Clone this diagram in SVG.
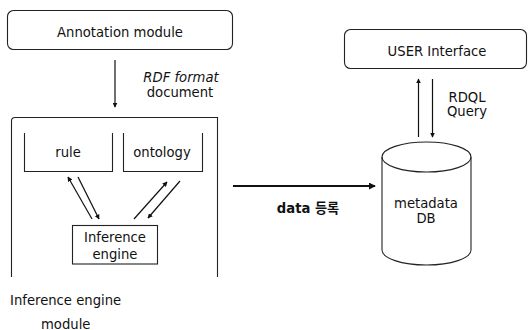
<svg xmlns="http://www.w3.org/2000/svg" width="529" height="330" viewBox="0 0 529 330">
  <defs>
    <marker id="head" viewBox="0 0 8 8" refX="7" refY="4" markerWidth="5" markerHeight="5" orient="auto" markerUnits="userSpaceOnUse">
      <path d="M0,0 L8,4 L0,8 z" fill="#111"/>
    </marker>
    <marker id="headBig" viewBox="0 0 8 8" refX="7" refY="4" markerWidth="7" markerHeight="7" orient="auto" markerUnits="userSpaceOnUse">
      <path d="M0,0 L8,4 L0,8 z" fill="#111"/>
    </marker>
    <style>
      .box { fill: none; stroke: #222; stroke-width: 1.1; }
      .lbl { font-family: "DejaVu Sans", "Noto Sans CJK KR", sans-serif; font-size: 13.2px; fill: #111; text-anchor: middle; }
      .edge { stroke: #111; stroke-width: 1.2; fill: none; marker-end: url(#head); }
    </style>
  </defs>
  <rect width="529" height="330" fill="#fff"/>

  <g id="annotation">
    <rect class="box" x="7.5" y="10.5" width="225" height="39" rx="6"/>
    <text class="lbl" x="120" y="37">Annotation module</text>
  </g>

  <g id="user-interface">
    <rect class="box" x="344.5" y="29.5" width="182" height="39" rx="6"/>
    <text class="lbl" x="437" y="56">USER Interface</text>
  </g>

  <g id="inference-module">
    <path class="box" d="M11.5,277 V121 Q11.5,117.5 15,117.5 H217.5 V277"/>
    <text class="lbl" x="10" y="305" style="text-anchor:start">Inference engine</text>
    <text class="lbl" x="41" y="328.5" style="text-anchor:start">module</text>
  </g>

  <g id="rule">
    <path class="box" d="M24.5,133 V171.5 H112.5 V133"/>
    <text class="lbl" x="68" y="157">rule</text>
  </g>

  <g id="ontology">
    <path class="box" d="M123.5,133 V171.5 H202.5 V133"/>
    <text class="lbl" x="162" y="157">ontology</text>
  </g>

  <g id="engine">
    <rect class="box" x="72.5" y="225.5" width="85" height="38.5"/>
    <text class="lbl" x="115" y="242">Inference</text>
    <text class="lbl" x="115" y="259">engine</text>
  </g>

  <g id="metadata-db">
    <path class="box" d="M382,157 V250 A44.5,15 0 0 0 471,250 V157"/>
    <ellipse class="box" cx="426.5" cy="157" rx="44.5" ry="15"/>
    <text class="lbl" x="426" y="208">metadata</text>
    <text class="lbl" x="426" y="223">DB</text>
  </g>

  <g id="connectors">
    <line class="edge" x1="115" y1="60" x2="115" y2="107"/>
    <text class="lbl" x="181" y="82" font-style="italic">RDF format</text>
    <text class="lbl" x="180" y="97">document</text>

    <line class="edge" x1="92" y1="219" x2="68" y2="177"/>
    <line class="edge" x1="78" y1="177" x2="99" y2="219"/>
    <line class="edge" x1="134" y1="219" x2="167" y2="182"/>
    <line class="edge" x1="180" y1="181" x2="148" y2="218"/>

    <line class="edge" x1="233" y1="186" x2="375" y2="186" style="stroke-width:2; marker-end:url(#headBig)"/>
    <text class="lbl" x="308" y="213" font-weight="bold">data 등록</text>

    <line class="edge" x1="418.5" y1="137" x2="418.5" y2="79"/>
    <line class="edge" x1="432.5" y1="79" x2="432.5" y2="137"/>
    <text class="lbl" x="467" y="102">RDQL</text>
    <text class="lbl" x="467" y="116">Query</text>
  </g>
</svg>
